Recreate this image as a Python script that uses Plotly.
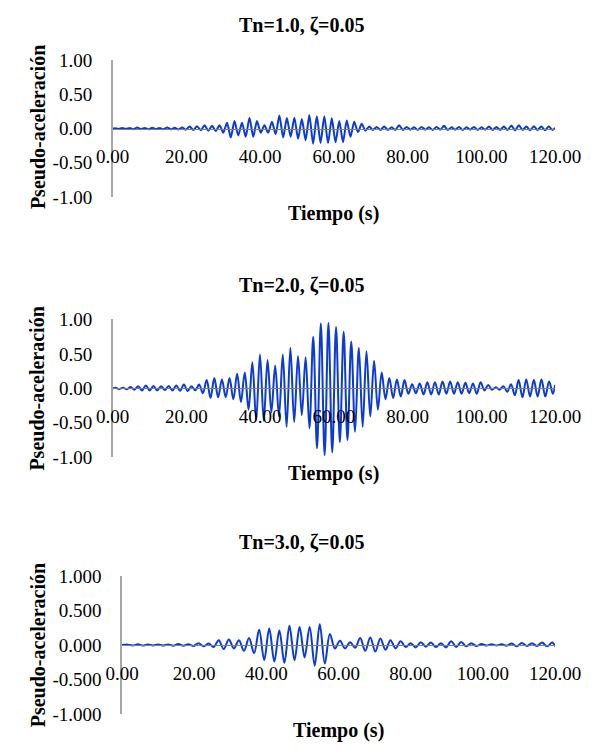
import plotly.graph_objects as go

# Response extrema (pseudo-acceleration) for each natural period,
# one value per half cycle, starting and ending with the record limits.
TN1_START, TN1_STEP = 0.56, 1.015
acc_tn1 = [0.0,
    0.005, -0.005, 0.008, -0.006, 0.01, -0.01, 0.015, -0.008, 0.01, -0.01,
    0.012, -0.008, 0.01, -0.01, 0.015, -0.01, 0.012, -0.012, 0.015, -0.015,
    0.03, -0.02, 0.035, -0.025, 0.05, -0.03, 0.04, -0.035, 0.05, -0.06,
    0.085, -0.13, 0.11, -0.10, 0.085, -0.12, 0.16, -0.12, 0.11, -0.06,
    0.05, -0.06, 0.10, -0.08, 0.19, -0.13, 0.155, -0.12, 0.16, -0.15,
    0.14, -0.17, 0.20, -0.22, 0.18, -0.21, 0.18, -0.21, 0.15, -0.20,
    0.11, -0.20, 0.12, -0.12, 0.10, -0.05, 0.07, -0.03, 0.03, -0.02,
    0.025, -0.02, 0.03, -0.02, 0.02, -0.02, 0.05, -0.02, 0.025, -0.015,
    0.02, -0.02, 0.025, -0.015, 0.02, -0.02, 0.025, -0.015, 0.04, -0.02,
    0.02, -0.015, 0.025, -0.02, 0.02, -0.015, 0.025, -0.02, 0.02, -0.015,
    0.03, -0.02, 0.025, -0.02, 0.03, -0.02, 0.045, -0.025, 0.05, -0.02,
    0.03, -0.025, 0.035, -0.02, 0.03, -0.025, 0.03, -0.02,
    0.01]

TN2_START, TN2_STEP = 0.73, 1.032
acc_tn2 = [0.0,
    0.01, -0.01, 0.01, -0.015, 0.02, -0.02, 0.03, -0.03, 0.04, -0.03,
    0.035, -0.03, 0.03, -0.025, 0.035, -0.03, 0.04, -0.035, 0.055, -0.04,
    0.03, -0.03, 0.055, -0.07, 0.12, -0.14, 0.15, -0.13, 0.13, -0.13,
    0.15, -0.16, 0.21, -0.20, 0.23, -0.31, 0.38, -0.46, 0.49, -0.47,
    0.41, -0.35, 0.33, -0.41, 0.49, -0.56, 0.59, -0.49, 0.47, -0.39,
    0.45, -0.58, 0.75, -0.87, 0.94, -0.97, 0.95, -0.93, 0.89, -0.78,
    0.82, -0.75, 0.68, -0.63, 0.59, -0.56, 0.54, -0.41, 0.40, -0.31,
    0.23, -0.16, 0.15, -0.14, 0.13, -0.12, 0.12, -0.08, 0.06, -0.07,
    0.07, -0.09, 0.09, -0.09, 0.09, -0.09, 0.10, -0.08, 0.10, -0.08,
    0.09, -0.08, 0.08, -0.07, 0.07, -0.08, 0.09, -0.03, 0.05, -0.02,
    0.015, -0.02, 0.03, -0.05, 0.06, -0.10, 0.12, -0.13, 0.13, -0.12,
    0.12, -0.12, 0.13, -0.12, 0.10, -0.08,
    0.05]

TN3_START, TN3_STEP = 1.6, 1.4
acc_tn3 = [0.0,
    0.005, -0.008, 0.01, -0.008, 0.008, -0.006, 0.006, -0.008, 0.008, -0.01,
    0.015, -0.01, 0.01, -0.015, 0.025, -0.02, 0.02, -0.03, 0.07, -0.06,
    0.08, -0.05, 0.07, -0.085, 0.10, -0.12, 0.22, -0.22, 0.24, -0.24,
    0.21, -0.26, 0.28, -0.22, 0.26, -0.18, 0.26, -0.30, 0.30, -0.27,
    0.16, -0.05, 0.06, -0.05, 0.04, -0.04, 0.10, -0.085, 0.11, -0.095,
    0.095, -0.07, 0.07, -0.05, 0.055, -0.03, 0.025, -0.035, 0.04, -0.025,
    0.035, -0.03, 0.025, -0.035, 0.055, -0.03, 0.045, -0.02, 0.025, -0.015,
    0.015, -0.008, 0.01, -0.006, 0.01, -0.01, 0.02, -0.02, 0.03, -0.015,
    0.025, -0.015, 0.035, -0.02, 0.035,
    -0.02]

T_END = 120.0
titles = ["Tn=1.0, ζ=0.05", "Tn=2.0, ζ=0.05", "Tn=3.0, ζ=0.05"]
x_ticks = [0, 20, 40, 60, 80, 100, 120]
x_ticktext = ["0.00", "20.00", "40.00", "60.00", "80.00", "100.00", "120.00"]
y_ticks = [-1.0, -0.5, 0.0, 0.5, 1.0]
y_ticktext_2dp = ["-1.00", "-0.50", "0.00", "0.50", "1.00"]
y_ticktext_3dp = ["-1.000", "-0.500", "0.000", "0.500", "1.000"]


def time_axis(start, step, values):
    n_peaks = len(values) - 2
    return [0.0] + [round(start + step * k, 3) for k in range(n_peaks)] + [T_END]


series = [
    (time_axis(TN1_START, TN1_STEP, acc_tn1), acc_tn1, y_ticktext_2dp, 0.7),
    (time_axis(TN2_START, TN2_STEP, acc_tn2), acc_tn2, y_ticktext_2dp, 1.0),
    (time_axis(TN3_START, TN3_STEP, acc_tn3), acc_tn3, y_ticktext_3dp, 1.0),
]

W, H = 608, 755
SERIF = "Liberation Serif, Times New Roman, serif"
LINE_BLUE = "#0B3BD4"
TICK_SIZE = 19

# pixel geometry of each panel: x of t=0, x of t=120, y of +1, y of -1
panels = [
    dict(x0=103, x1=579, ytop=51.7, ybot=192.3, title_y=15, xt_y=209, yt_y=120),
    dict(x0=103, x1=579, ytop=318.3, ybot=460.0, title_y=283, xt_y=477, yt_y=389),
    dict(x0=113, x1=579, ytop=582.3, ybot=724.0, title_y=547, xt_y=741, yt_y=653),
]


def px_x(v):
    return v / W


def px_y(v):
    return 1 - v / H


fig = go.Figure()
annotations = []
for i, ((t, a, ytxt, smooth), p) in enumerate(zip(series, panels), start=1):
    sfx = "" if i == 1 else str(i)
    fig.add_trace(go.Scatter(
        x=t, y=a, mode="lines",
        line=dict(color=LINE_BLUE, width=2, shape="spline", smoothing=smooth),
        xaxis="x" + sfx, yaxis="y" + sfx, showlegend=False, hoverinfo="skip",
    ))
    zero_y = (p["ytop"] + p["ybot"]) / 2
    fig.update_layout(**{
        "xaxis" + sfx: dict(
            domain=[px_x(p["x0"]), px_x(p["x1"])], range=[0, T_END],
            anchor="free", position=px_y(zero_y),
            showline=True, linecolor="#7F7F7F", linewidth=1,
            ticks="", tickvals=x_ticks, ticktext=x_ticktext,
            ticklabelstandoff=11,
            tickfont=dict(family=SERIF, size=TICK_SIZE, color="#000000"),
            showgrid=False, zeroline=False, fixedrange=True,
        ),
        "yaxis" + sfx: dict(
            domain=[px_y(p["ybot"]), px_y(p["ytop"])], range=[-1, 1],
            anchor="x" + sfx,
            showline=True, linecolor="#A6A6A6", linewidth=1.5,
            ticks="", tickvals=y_ticks, ticktext=ytxt,
            ticklabelstandoff=15,
            tickfont=dict(family=SERIF, size=TICK_SIZE, color="#000000"),
            showgrid=False, zeroline=False, fixedrange=True,
        ),
    })
    annotations.append(dict(
        text=titles[i - 1], x=px_x(307), y=px_y(p["title_y"]),
        xref="paper", yref="paper", showarrow=False,
        xanchor="center", yanchor="middle",
        font=dict(family=SERIF, size=20, color="#000000", weight="bold"),
    ))
    annotations.append(dict(
        text="Tiempo (s)", x=px_x((p["x0"] + p["x1"]) / 2), y=px_y(p["xt_y"]),
        xref="paper", yref="paper", showarrow=False,
        xanchor="center", yanchor="middle",
        font=dict(family=SERIF, size=20, color="#000000", weight="bold"),
    ))
    annotations.append(dict(
        text="Pseudo-aceleración", x=px_x(22), y=px_y(p["yt_y"]),
        xref="paper", yref="paper", showarrow=False, textangle=-90,
        xanchor="center", yanchor="middle",
        font=dict(family=SERIF, size=20, color="#000000", weight="bold"),
    ))

fig.update_layout(
    width=W, height=H,
    margin=dict(l=0, r=0, t=0, b=0),
    paper_bgcolor="#FFFFFF", plot_bgcolor="#FFFFFF",
    showlegend=False, annotations=annotations,
)

# drop the page's default body margin so the figure fills the window exactly
fig.write_html(
    "out.html",
    post_script="document.body.style.margin='0';document.body.style.overflow='hidden';",
)
